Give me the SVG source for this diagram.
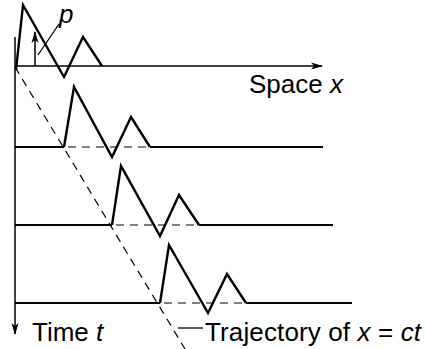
<svg xmlns="http://www.w3.org/2000/svg" width="425" height="349" viewBox="0 0 425 349">
<style>
.wave{fill:none;stroke:#000;stroke-width:2.4;stroke-linejoin:miter}
.base{fill:none;stroke:#000;stroke-width:2}
.axis{fill:none;stroke:#000;stroke-width:1.5}
.dash{fill:none;stroke:#000;stroke-width:1.2;stroke-dasharray:8 6}
.lead{fill:none;stroke:#000;stroke-width:1.3}
text{font-family:"Liberation Sans",Arial,sans-serif;font-size:26px;fill:#000}
.it{font-style:italic}
</style>
<defs>
<marker id="ah" markerWidth="12" markerHeight="10" refX="11" refY="5" orient="auto" markerUnits="userSpaceOnUse">
<path d="M0,1.5 L12,5 L0,8.5 L3,5 Z" fill="#000"/>
</marker>
</defs>
<g id="axes">
<line class="axis" x1="15" y1="66" x2="322" y2="66" marker-end="url(#ah)"/>
<line class="axis" x1="15" y1="37" x2="15" y2="334" marker-end="url(#ah)"/>
<text x="249" y="93">Space <tspan class="it">x</tspan></text>
<text x="32" y="341">Time <tspan class="it">t</tspan></text>
</g>
<g id="wave1">
<polyline class="wave" points="16,70 23,5 64,77 83,37 102,66"/>
<line class="axis" x1="35" y1="66" x2="35" y2="32" marker-end="url(#ah)"/>
<line class="lead" x1="38" y1="55" x2="59" y2="24"/>
<text class="it" x="59" y="23" font-size="21">p</text>
</g>
<g id="wave2">
<polyline class="base" points="15,147 64,147"/>
<polyline class="wave" points="64,147 74,87 112,157 131,117 150,147"/>
<line class="base" x1="150" y1="147" x2="323" y2="147"/>
<line class="dash" x1="68" y1="147" x2="150" y2="147"/>
</g>
<g id="wave3">
<line class="base" x1="15" y1="225" x2="112" y2="225"/>
<polyline class="wave" points="112,225 121,166 160,236 179,195 199,225"/>
<line class="base" x1="199" y1="225" x2="333" y2="225"/>
<line class="dash" x1="116" y1="225" x2="199" y2="225"/>
</g>
<g id="wave4">
<line class="base" x1="15" y1="303" x2="160" y2="303"/>
<polyline class="wave" points="160,303 169,245 208,313 227,274 246,303"/>
<line class="base" x1="246" y1="303" x2="352" y2="303"/>
<line class="dash" x1="164" y1="303" x2="246" y2="303"/>
</g>
<g id="connectors">
<line class="dash" x1="15" y1="67" x2="185" y2="349"/>
<line class="lead" x1="178" y1="328" x2="203" y2="328"/>
<text x="205" y="341" textLength="216">Trajectory of <tspan class="it">x</tspan> = <tspan class="it">ct</tspan></text>
</g>
</svg>
